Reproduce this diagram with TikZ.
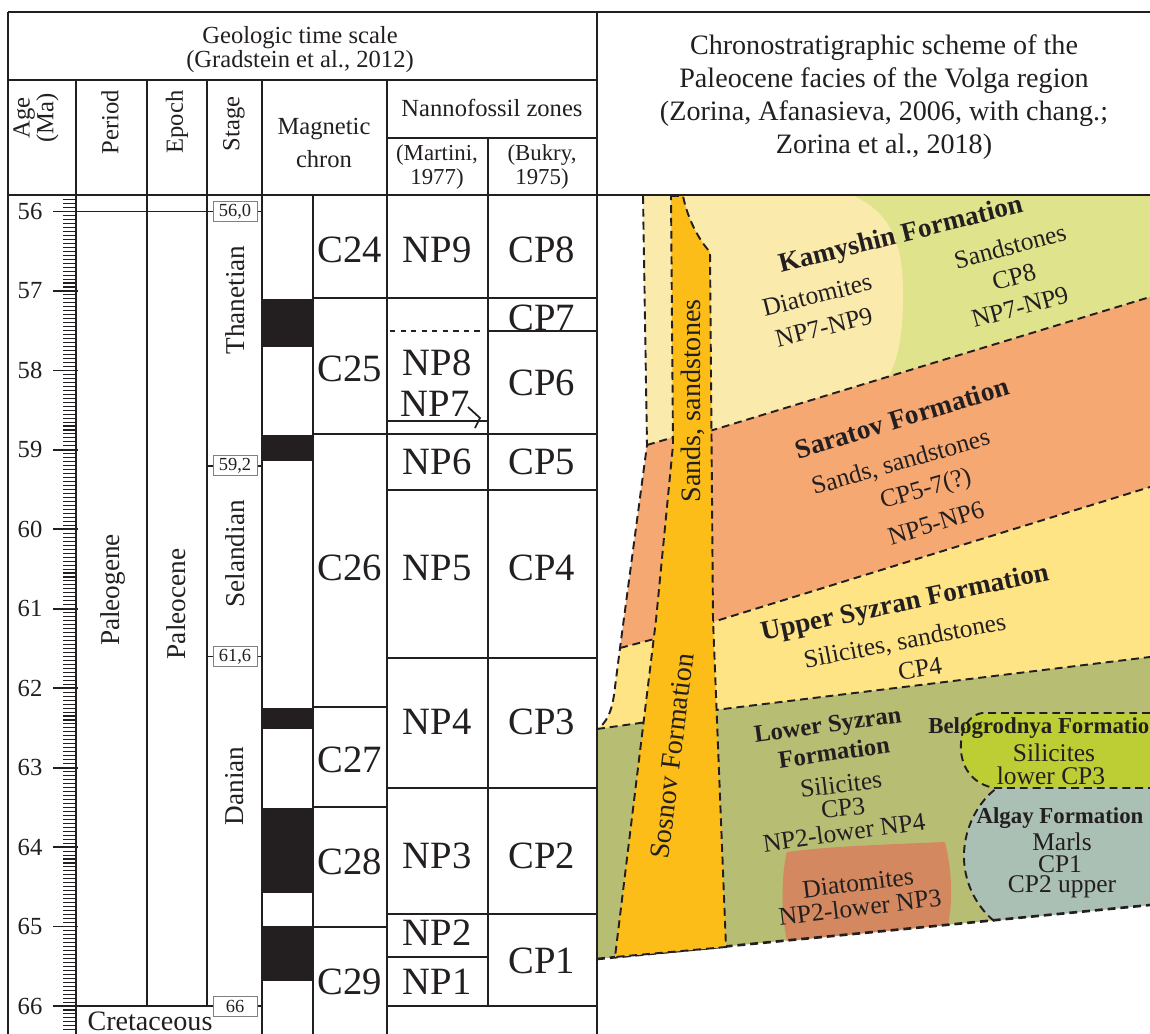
\documentclass[tikz,border=0pt]{standalone}
\usepackage{fontspec}
\setmainfont{Liberation Serif}
\usetikzlibrary{positioning}
\definecolor{ink}{RGB}{35,31,32}
\definecolor{kampale}{RGB}{250,234,172}
\definecolor{kamgreen}{RGB}{223,228,140}
\definecolor{sarorange}{RGB}{246,168,114}
\definecolor{usyellow}{RGB}{254,228,132}
\definecolor{lsolive}{RGB}{184,189,116}
\definecolor{sosgold}{RGB}{252,189,24}
\definecolor{bellime}{RGB}{189,205,52}
\definecolor{algrey}{RGB}{171,192,181}
\definecolor{diared}{RGB}{211,136,96}
\tikzset{
  tline/.style={line width=1pt, draw=ink},
  facline/.style={draw=ink, line width=1.1pt, dash pattern=on 4.5pt off 2.8pt},
  hdr/.style={font=\fontsize{14}{13.6}\selectfont, align=center, text=ink, inner sep=0pt},
  bighdr/.style={font=\fontsize{16}{18.7}\selectfont, align=center, text=ink, inner sep=0pt},
  cell/.style={font=\fontsize{22}{22}\selectfont, text=ink, inner sep=0pt},
  agelbl/.style={font=\fontsize{14}{14}\selectfont, text=ink, inner sep=0pt},
  unit/.style={font=\fontsize{15.5}{16}\selectfont, text=ink, inner sep=0pt, rotate=90},
  sbox/.style={draw=gray, fill=white, line width=0.5pt, text=ink,
    font=\fontsize{10.5}{11}\selectfont, minimum width=0.88cm, minimum height=0.4cm, inner sep=0pt},
  fmbig/.style={font=\bfseries\fontsize{15.5}{16}\selectfont, text=ink, inner sep=0pt},
  fmmid/.style={font=\bfseries\fontsize{14}{14}\selectfont, text=ink, inner sep=0pt},
  fmsm/.style={font=\bfseries\fontsize{13}{13}\selectfont, text=ink, inner sep=0pt},
  ftx/.style={font=\fontsize{14.5}{14.5}\selectfont, text=ink, inner sep=0pt},
  coltx/.style={font=\fontsize{16}{16}\selectfont, text=ink, inner sep=0pt}
}

\begin{document}
\begin{tikzpicture}[x=0.02cm, y=-0.02cm]
\useasboundingbox (0,0) rectangle (1150,1034);

% facies of the Volga region
\fill[kamgreen] (643,196) -- (1150,196) -- (1150,297) -- (713,430) -- (671,438) -- (647,445) -- cycle;
\fill[kampale] (643,196) -- (854,196) .. controls (895,215) and (903,250) .. (903,295)
  .. controls (903,335) and (898,360) .. (888,377) -- (713,430) -- (671,438) -- (647,445) -- cycle;
\fill[sarorange] (647,445) -- (671,438) -- (713,430) -- (1150,297) -- (1150,487) -- (716,621) -- (658,638) -- (620,648) -- cycle;
\fill[usyellow] (620,648) -- (658,638) -- (716,621) -- (1150,487) -- (1150,657) -- (715,710) -- (647,722) -- (597,729)
  .. controls (605,724) and (611,715) .. (614,695) -- cycle;
\fill[lsolive] (597,729) -- (647,722) -- (715,710) -- (1150,657) -- (1150,905) -- (597,959) -- cycle;
\fill[diared] (787,852) .. controls (830,846) and (900,844) .. (945,842) .. controls (952,870) and (953,900) .. (948,925)
  -- (787,941) .. controls (781,915) and (781,875) .. (787,852) -- cycle;
\fill[bellime] (1150,713) -- (982,713) .. controls (965,716) and (960,735) .. (961,750)
  .. controls (962,770) and (975,785) .. (995,788) -- (1150,788) -- cycle;
\fill[algrey] (997,788) -- (1150,788) -- (1150,905) -- (994,921) .. controls (975,905) and (963,880) .. (964,853)
  .. controls (965,825) and (980,800) .. (997,788) -- cycle;
\draw[facline] (1150,713) -- (982,713) .. controls (965,716) and (960,735) .. (961,750)
  .. controls (962,770) and (975,785) .. (995,788) -- (1150,788);
\draw[facline] (994,921) .. controls (975,905) and (963,880) .. (964,853) .. controls (965,825) and (980,800) .. (997,788);
\draw[facline] (647,445) -- (671,438) -- (713,430) -- (1150,297);
\draw[facline] (620,648) -- (658,638) -- (716,621) -- (1150,487);
\draw[facline] (597,729) -- (647,722) -- (715,710) -- (1150,657);
\draw[facline, line width=1.5pt] (597,959) -- (1150,905);
\draw[facline] (643,196) -- (647,445) -- (620,648) -- (614,695) .. controls (611,715) and (605,724) .. (597,729);
\filldraw[fill=sosgold, facline] (671,196) -- (683,196) .. controls (688,220) and (699,240) .. (710,252)
  -- (713,620) -- (726,947) -- (615,957) -- (656,620) -- (673,445) -- cycle;

% table frame
\draw[tline] (8,12) -- (1150,12);
\draw[tline] (8,195) -- (1150,195);
\draw[tline] (8,80) -- (597,80);
\draw[tline] (387,138) -- (597,138);
\draw[tline] (8,12) -- (8,1034);
\draw[tline] (76,80) -- (76,1034);
\draw[tline] (147,80) -- (147,1006);
\draw[tline] (207,80) -- (207,1006);
\draw[tline] (262,80) -- (262,1034);
\draw[tline] (313,196) -- (313,1034);
\draw[tline] (387,80) -- (387,1034);
\draw[tline] (488,138) -- (488,1006);
\draw[tline] (597,12) -- (597,1034);

% age axis
\foreach \i in {-3,...,206}{
  \pgfmathsetmacro{\yy}{211.5+\i*3.9725}
  \draw[tline, line width=0.6pt] (63,\yy) -- (76,\yy);
}
\foreach \a in {56,...,66}{
  \draw[tline] (53,{211.5+(\a-56)*79.45}) -- (78,{211.5+(\a-56)*79.45});
  \node[agelbl] (age\a) at (30,{211.5+(\a-56)*79.45}) {\a};
}

% stage boundaries
\draw[tline] (76,211.5) -- (262,211.5);
\draw[tline] (76,1006) -- (262,1006);
\draw[tline] (207,465.7) -- (262,465.7);
\draw[tline] (207,656.4) -- (262,656.4);
\node[sbox] (b560) at (235,211.5) {56,0};
\node[sbox] (b592) at (235,465.7) {59,2};
\node[sbox] (b616) at (235,656.4) {61,6};
\node[sbox] (b660) at (235,1006) {66};

% magnetic polarity
\foreach \a/\b in {299/347, 435/461, 708/729, 808/893, 926/981}
  \fill[ink] (262,\a) rectangle (313,\b);
\foreach \yy in {298,434,707,807,927}
  \draw[tline] (313,\yy) -- (387,\yy);

% nannofossil zones
\foreach \yy in {298,434,490,658,788,914,1006}
  \draw[tline] (387,\yy) -- (597,\yy);
\draw[tline] (387,957) -- (488,957);
\draw[tline] (488,331) -- (597,331);
\draw[tline, dashed] (390,331) -- (482,331);
\draw[tline] (387,421) -- (488,421);
\draw[tline] (468,407) -- (480,418) -- (475,428);

% headers
\node[hdr] (gts) at (300,50) {Geologic time scale\\(Gradstein et al., 2012)};
\node[hdr, rotate=90] (hage) at (36,118) {Age\\(Ma)};
\node[hdr, rotate=90] (hper) at (110,122) {Period};
\node[hdr, rotate=90] (hepo) at (177,122) {Epoch};
\node[hdr, rotate=90] (hsta) at (234,124) {Stage};
\node[hdr, font=\fontsize{14}{18.7}\selectfont] (hmag) at (324,143) {Magnetic\\chron};
\node[hdr] (hnan) at (492,108) {Nannofossil zones};
\node[hdr, font=\fontsize{13}{13.6}\selectfont] (hmar) at (437,167) {(Martini,\\1977)};
\node[hdr, font=\fontsize{13}{13.6}\selectfont] (hbuk) at (542,167) {(Bukry,\\1975)};
\node[bighdr] (hvol) at (884,97) {Chronostratigraphic scheme of the\\Paleocene facies of the Volga region\\(Zorina, Afanasieva, 2006, with chang.;\\Zorina et al., 2018)};

% period, epoch, stage
\node[unit] (paleogene) at (113,590) {Paleogene};
\node[unit] (paleocene) at (176,604) {Paleocene};
\node[unit] (thanetian) at (235,300) {Thanetian};
\node[unit] (selandian) at (235,554) {Selandian};
\node[unit] (danian) at (235,786) {Danian};
\node[unit, rotate=-90, anchor=base, font=\fontsize{16}{16}\selectfont] (cretaceous) at (150,1030) {Cretaceous};

% chrons and zones
\foreach \yy/\lb in {250/C24, 369/C25, 568/C26, 760/C27, 862/C28, 982/C29}
  \node[cell] (\lb) at (350,\yy) {\lb};
\foreach \yy/\lb in {250/NP9, 363/NP8, 462/NP6, 568/NP5, 722/NP4, 856/NP3, 933/NP2, 982/NP1}
  \node[cell] (\lb) at (437,\yy) {\lb};
\node[cell] (NP7) at (435,404) {NP7};
\foreach \yy/\lb in {250/CP8, 318/CP7, 383/CP6, 462/CP5, 568/CP4, 722/CP3, 856/CP2, 961/CP1}
  \node[cell] (\lb) at (542,\yy) {\lb};

% facies labels
\node[coltx, rotate=90] (colsand) at (693,401) {Sands, sandstones};
\node[coltx, rotate=83] (colsos) at (672,756) {Sosnov Formation};
\node[fmbig, rotate=14] (kamF) at (901,236) {Kamyshin Formation};
\node[ftx, rotate=14] (kamD1) at (817,295) {Diatomites};
\node[ftx, rotate=14] (kamD2) at (824,327) {NP7-NP9};
\node[ftx, rotate=15] (kamS1) at (1010,246) {Sandstones};
\node[ftx, rotate=15] (kamS2) at (1014,277) {CP8};
\node[ftx, rotate=15] (kamS3) at (1020,307) {NP7-NP9};
\node[fmbig, rotate=17] (sarF) at (902,418) {Saratov Formation};
\node[ftx, rotate=16] (sarT1) at (901,463) {Sands, sandstones};
\node[ftx, rotate=16] (sarT2) at (926,490) {CP5-7(?)};
\node[ftx, rotate=17] (sarT3) at (936,523) {NP5-NP6};
\node[fmbig, rotate=12] (usF) at (905,604) {Upper Syzran Formation};
\node[ftx, rotate=11] (usT1) at (905,642) {Silicites, sandstones};
\node[ftx, rotate=9] (usT2) at (920,669) {CP4};
\node[fmmid, rotate=8] (lsF1) at (828,727) {Lower Syzran};
\node[fmmid, rotate=8] (lsF2) at (834,752) {Formation};
\node[ftx, rotate=7] (lsT1) at (841,784) {Silicites};
\node[ftx, rotate=6] (lsT2) at (843,808) {CP3};
\node[ftx, rotate=8] (lsT3) at (844,832) {NP2-lower NP4};
\node[ftx, rotate=7] (diaT1) at (858,883) {Diatomites};
\node[ftx, rotate=7] (diaT2) at (860,907) {NP2-lower NP3};
\node[fmsm, anchor=west] (belF) at (928,728) {Belogrodnya Formation};
\node[ftx] (belT1) at (1054,753) {Silicites};
\node[ftx] (belT2) at (1051,776) {lower CP3};
\node[fmsm] (alF) at (1060,818) {Algay Formation};
\node[ftx] (alT1) at (1062,842) {Marls};
\node[ftx] (alT2) at (1060,864) {CP1};
\node[ftx] (alT3) at (1062,887) {CP2 upper};
\end{tikzpicture}
\end{document}
